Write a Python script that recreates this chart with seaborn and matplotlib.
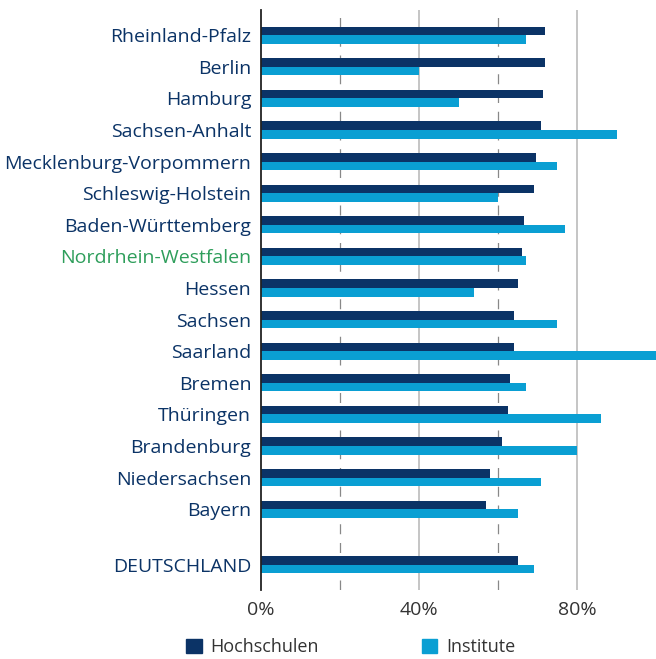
import numpy as np
import pandas as pd
import matplotlib
matplotlib.use('Agg')
import matplotlib.pyplot as plt
import seaborn as sns
from matplotlib.patches import Patch

# data (shares in %)
laender = ['Rheinland-Pfalz', 'Berlin', 'Hamburg', 'Sachsen-Anhalt',
           'Mecklenburg-Vorpommern', 'Schleswig-Holstein', 'Baden-Württemberg',
           'Nordrhein-Westfalen', 'Hessen', 'Sachsen', 'Saarland', 'Bremen',
           'Thüringen', 'Brandenburg', 'Niedersachsen', 'Bayern', 'DEUTSCHLAND']
hochschulen = [72, 72, 71.5, 71, 69.5, 69, 66.5, 66, 65, 64, 64, 63, 62.5, 61, 58, 57, 65]
institute = [67, 40, 50, 90, 75, 60, 77, 67, 54, 75, 100, 67, 86, 80, 71, 65, 69]
xticks = [0, 40, 80]

navy = '#0b3366'
light = '#0a9fd3'
green = '#2e9e5b'

# row positions, with a gap before the national total
pos = np.arange(len(laender), dtype=float)
pos[-1] += 0.75

df = pd.DataFrame({
    'pos': np.concatenate([pos, pos]),
    'wert': hochschulen + institute,
    'typ': ['Hochschulen'] * len(laender) + ['Institute'] * len(laender),
})

plt.rcParams['font.family'] = ['Open Sans', 'DejaVu Sans']

fig = plt.figure(figsize=(6.56, 6.59), dpi=100)
ax = fig.add_axes([0.398, 0.105, 0.602, 0.88])

sns.barplot(data=df, x='wert', y='pos', hue='typ', orient='y', native_scale=True,
            palette={'Hochschulen': navy, 'Institute': light}, width=0.54,
            dodge=True, legend=False, ax=ax, saturation=1)

ax.set_ylim(pos[-1] + 0.8, -0.8)
ax.set_xlim(0, 100)

for x in [20, 60]:
    ax.axvline(x, color='#888888', lw=0.9, ls=(0, (8, 7)), zorder=0)
for x in [40, 80]:
    ax.axvline(x, color='#bbbbbb', lw=1.2, zorder=0)

ax.set_yticks(pos)
ax.set_yticklabels(laender, fontsize=14, color=navy)
ax.get_yticklabels()[7].set_color(green)
ax.set_xticks(xticks)
ax.set_xticklabels([f'{v}%' for v in xticks], fontsize=14, color='#333333')
ax.tick_params(length=0)
ax.tick_params(axis='y', pad=7)
ax.tick_params(axis='x', pad=8)
ax.set_xlabel('')
ax.set_ylabel('')

for s in ['top', 'right', 'bottom']:
    ax.spines[s].set_visible(False)
ax.spines['left'].set_color('#222222')
ax.spines['left'].set_linewidth(1.3)

handles = [Patch(color=navy, label='Hochschulen'), Patch(color=light, label='Institute')]
fig.legend(handles=handles, loc='center', bbox_to_anchor=(0.535, 0.018), ncol=2,
           frameon=False, fontsize=13, handlelength=0.85, handleheight=0.85,
           columnspacing=5.7, handletextpad=0.5, labelcolor='#333333')

fig.savefig('out.png', dpi=100)
